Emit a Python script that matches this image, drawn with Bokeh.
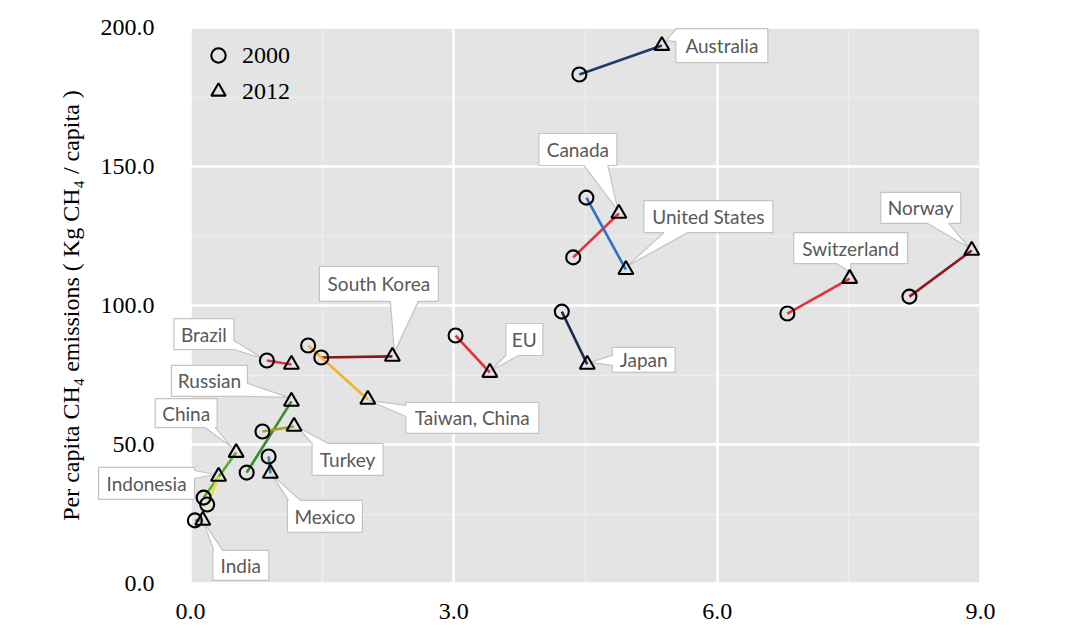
from bokeh.plotting import figure
from bokeh.models import (Range1d, FixedTicker, NumeralTickFormatter, Legend, LegendItem,
                          ColumnDataSource, PolyAnnotation, LabelSet, BoxAnnotation)
from bokeh.core.properties import value
from bokeh.embed import file_html
from bokeh.resources import INLINE

# ---------------- data ----------------
countries = ["Australia", "Canada", "United States", "Switzerland", "Norway", "Japan", "EU",
             "South Korea", "Taiwan, China", "Brazil", "Russian", "Turkey", "Mexico", "China",
             "Indonesia", "India"]
x_2000 = [4.43, 4.36, 4.51, 6.80, 8.19, 4.23, 3.02, 1.49, 1.34, 0.87, 0.64, 0.82, 0.89, 0.15, 0.19, 0.05]
x_2012 = [5.37, 4.88, 4.96, 7.51, 8.90, 4.52, 3.41, 2.30, 2.02, 1.15, 1.15, 1.18, 0.91, 0.52, 0.32, 0.14]
y_2000 = [183.1, 117.3, 138.8, 97.1, 103.2, 97.8, 89.2, 81.3, 85.6, 80.2, 39.9, 54.7, 45.7, 30.9, 28.4, 22.7]
y_2012 = [193.5, 133.1, 112.9, 109.7, 119.8, 78.8, 75.9, 81.7, 66.2, 78.8, 65.5, 56.5, 39.6, 47.1, 38.5, 22.7]
line_colors = ["#1d3b6c", "#e5323c", "#2f70c8", "#e5303a", "#8a1c22", "#1e2c50", "#e5323c",
               "#8a1a1c", "#f0b232", "#e5323c", "#3b8a2e", "#a2a226", "#3f88b8", "#5aaa34",
               "#e6e02e", "#4a9cc0"]
x_ticks = [0, 3, 6, 9]
x_minor = [1.5, 4.5, 7.5]
y_ticks = [0, 50, 100, 150, 200]
y_minor = [25, 75, 125, 175]
legend_labels = ["2000", "2012"]

# ---------------- layout of callouts (pixel offsets from anchor point) ----------------
# anchor, box left, top, right, bottom, pointer side, base a, base b, tip dx, tip dy
callouts = {
    "Australia":     ("2012",  14, -17, 106,  17, "left",   -16,  -4,  4, -5),
    "Canada":        ("2012", -80, -80,  -2, -48, "bottom", -35, -11, -1, -3),
    "United States": ("2012",  18, -69, 147, -37, "bottom",  38,  62,  2, -4),
    "Switzerland":   ("2012", -56, -46,  58, -15, "bottom", -13,   1,  1, -6),
    "Norway":        ("2012", -91, -58, -11, -27, "bottom", -44, -23, -3, -3),
    "Japan":         ("2012",  25, -17,  88,   8, "left",    -9,   1,  3, -2),
    "EU":            ("2012",  16, -49,  53, -17, "bottom",  16,  29,  1, -2),
    "South Korea":   ("2012", -73, -90,  46, -55, "bottom",  -2,  26,  2, -4),
    "Taiwan, China": ("2012",  38,   3, 171,  34, "left",     6,  17,  1,  1),
    "Brazil":        ("2000", -93, -42, -33, -11, "right",  -20, -11, -4, -2),
    "Russian":       ("2012",-120, -36, -44,  -5, "right",  -18,  -5, -3, -4),
    "Turkey":        ("2012",  18,  17,  89,  49, "top",     18,  34,  4,  1),
    "Mexico":        ("2012",  17,  27,  92,  59, "top",     18,  30,  2,  2),
    "China":         ("2012", -81, -54, -19, -25, "bottom", -31, -21, -4, -5),
    "Indonesia":     ("2012",-120,  -9, -24,  23, "right",   -6,   2, -4, -2),
    "India":         ("2012",  10,  30,  66,  60, "top",     11,  20,  1,  2),
}

W, H = 1080, 636
DATA_LEFT, DATA_RIGHT, DATA_TOP, DATA_BOTTOM = 190, 980, 27, 583   # grey panel edges (px)
FRAME_LEFT, FRAME_RIGHT, FRAME_TOP, FRAME_BOTTOM = 30, 1060, 4, 632  # frame spans nearly whole canvas
X0, X1, Y0, Y1 = 0, 9, 0, 200
sx = (DATA_RIGHT - DATA_LEFT) / (X1 - X0)
sy = (DATA_BOTTOM - DATA_TOP) / (Y1 - Y0)
XSTART = X0 - (DATA_LEFT - FRAME_LEFT) / sx
XEND = X1 + (FRAME_RIGHT - DATA_RIGHT) / sx
YSTART = Y0 - (FRAME_BOTTOM - DATA_BOTTOM) / sy
YEND = Y1 + (DATA_TOP - FRAME_TOP) / sy

p = figure(width=W, height=H, x_range=Range1d(XSTART, XEND), y_range=Range1d(YSTART, YEND),
           output_backend="svg", toolbar_location=None,
           min_border_left=FRAME_LEFT, min_border_right=W - FRAME_RIGHT,
           min_border_top=FRAME_TOP, min_border_bottom=H - FRAME_BOTTOM)
p.background_fill_color = "white"
p.border_fill_color = "white"
p.outline_line_color = None

# grey data panel
p.add_layout(BoxAnnotation(left=X0, right=X1, bottom=Y0, top=Y1, fill_color="#e4e4e4",
                           fill_alpha=1.0, line_color=None, level="image"))

# axes
p.xaxis.ticker = FixedTicker(ticks=x_ticks, minor_ticks=x_minor)
p.yaxis.ticker = FixedTicker(ticks=y_ticks, minor_ticks=y_minor)
p.yaxis.fixed_location = X0
p.xaxis.fixed_location = Y0
p.xaxis.bounds = (X0, X1)
p.yaxis.bounds = (Y0, Y1)
for ax in (p.xaxis, p.yaxis):
    ax.formatter = NumeralTickFormatter(format="0.0")
    ax.axis_line_color = None
    ax.major_tick_line_color = None
    ax.minor_tick_line_color = None
    ax.major_label_text_font = "Liberation Serif"
    ax.major_label_text_font_size = "24px"
    ax.major_label_text_color = "black"
p.xaxis.major_label_standoff = 14
p.yaxis.major_label_standoff = 30
p.yaxis.axis_label = "Per capita CH\u2084 emissions ( Kg CH\u2084 / capita )"
p.yaxis.axis_label_text_font = "Liberation Serif"
p.yaxis.axis_label_text_font_style = "normal"
p.yaxis.axis_label_text_font_size = "24px"
p.yaxis.axis_label_text_color = "black"
p.yaxis.axis_label_standoff = 14

for g in (p.xgrid, p.ygrid):
    g.grid_line_color = "white"
    g.grid_line_width = 2.5
    g.minor_grid_line_color = "white"
    g.minor_grid_line_alpha = 0.35
    g.minor_grid_line_width = 1.5

# callouts
cx_list, cy_list, names = [], [], []
for i, name in enumerate(countries):
    anc, L, T, R, B, side, a, b, tdx, tdy = callouts[name]
    ax_, ay_ = (x_2012[i], y_2012[i]) if anc == "2012" else (x_2000[i], y_2000[i])
    tip = (tdx, tdy)
    if side == "top":
        pts = [(L, T), (a, T), tip, (b, T), (R, T), (R, B), (L, B)]
    elif side == "right":
        pts = [(L, T), (R, T), (R, a), tip, (R, b), (R, B), (L, B)]
    elif side == "bottom":
        pts = [(L, T), (R, T), (R, B), (b, B), tip, (a, B), (L, B)]
    else:
        pts = [(L, T), (R, T), (R, B), (L, B), (L, b), tip, (L, a)]
    poly = PolyAnnotation(xs=[ax_ + px / sx for px, py in pts],
                          ys=[ay_ - py / sy for px, py in pts],
                          xs_units="data", ys_units="data",
                          fill_color="white", fill_alpha=1.0,
                          line_color="#c4c4c4", line_width=1.2, line_alpha=1.0,
                          level="underlay")
    p.add_layout(poly)
    cx_list.append(ax_ + (L + R) / 2 / sx)
    cy_list.append(ay_ - (T + B) / 2 / sy)
    names.append(name)

lab_src = ColumnDataSource(dict(x=cx_list, y=cy_list, text=names))
labels = LabelSet(x="x", y="y", text="text", source=lab_src, text_font=value("Lato"),
                  text_font_size=value("19px"), text_color="#595959", text_align="center",
                  text_baseline="middle", level="underlay")
p.add_layout(labels)

# connecting lines
p.segment(x0=x_2000, y0=y_2000, x1=x_2012, y1=y_2012, line_color=line_colors, line_width=2.6)

# markers
r_c = p.scatter(x=x_2000, y=y_2000, marker="circle", size=14, fill_color=None,
                line_color="black", line_width=2.1)
r_t = p.scatter(x=x_2012, y=y_2012, marker="triangle", size=15, fill_color=None,
                line_color="black", line_width=2.1)

frame_h = FRAME_BOTTOM - FRAME_TOP
legend = Legend(items=[LegendItem(label=legend_labels[0], renderers=[r_c]),
                       LegendItem(label=legend_labels[1], renderers=[r_t])],
                location=(DATA_LEFT + 8 - FRAME_LEFT, frame_h - (DATA_TOP + 10 - FRAME_TOP) - 72),
                glyph_width=40, glyph_height=36, spacing=0,
                margin=0, padding=0, label_standoff=4,
                label_text_font="Liberation Serif", label_text_font_size="24px",
                label_text_color="black", background_fill_alpha=0, border_line_color=None)
p.add_layout(legend)

open("out.html", "w").write(file_html(p, INLINE))
